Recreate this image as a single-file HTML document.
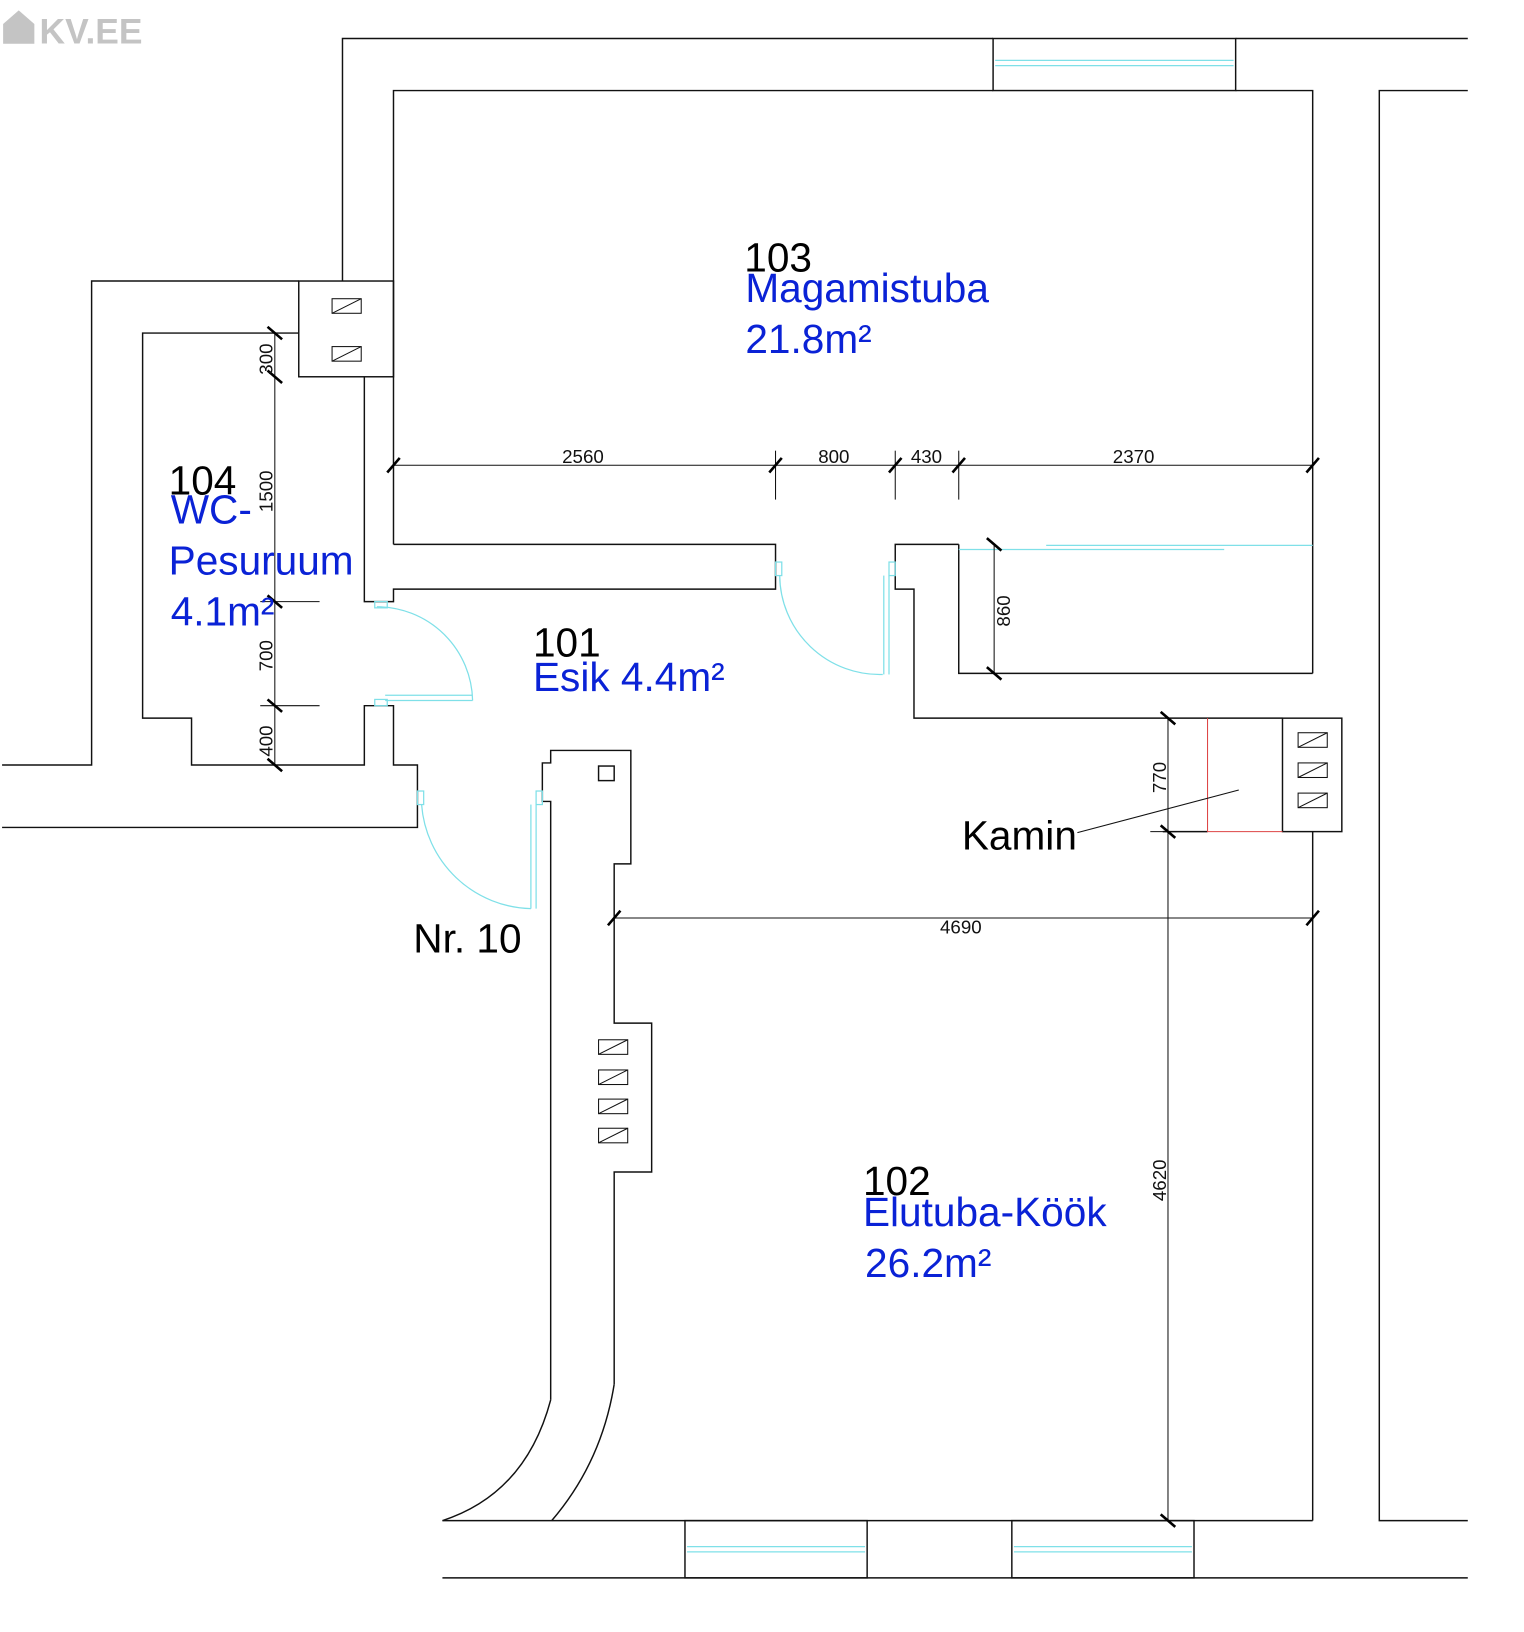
<!DOCTYPE html>
<html><head><meta charset="utf-8"><style>
html,body{margin:0;padding:0;background:#fff;width:1524px;height:1632px;overflow:hidden}
svg{display:block}
text{font-family:"Liberation Sans",Arial,sans-serif}
</style></head><body>
<svg width="1524" height="1632" viewBox="0 0 1464 1568" preserveAspectRatio="none" xmlns="http://www.w3.org/2000/svg">
<g fill="none" stroke="#111" stroke-width="1.4">
<!-- top outer -->
<polyline points="329,270 329,37 954,37"/>
<line x1="1187" y1="37" x2="1410" y2="37"/>
<rect x="954" y="37" width="233" height="50"/>
<!-- bedroom -->
<polyline points="378,523 378,87 954,87"/>
<polyline points="1187,87 1261,87 1261,647"/>
<!-- right outer -->
<polyline points="1410,87 1325,87 1325,1461 1410,1461"/>
<!-- WC outer -->
<polyline points="287,270 88,270 88,735 2,735"/>
<polyline points="287,320 137,320 137,690 184,690 184,735 350,735 350,678 378,678 378,735 401,735 401,795 2,795"/>
<polyline points="350,362 350,578 378,578 378,566 745,566 745,523 378,523"/>
<rect x="287" y="270" width="91" height="92"/>
<!-- door 800 and right -->
<polyline points="921,523 860,523 860,566 878,566 878,690 1232,690"/>
<polyline points="921,523 921,647 1261,647"/>
<rect x="1232" y="690" width="57" height="109"/>
<line x1="1117" y1="799" x2="1160" y2="799"/>
<line x1="1261" y1="799" x2="1261" y2="1461"/>
<!-- bottom -->
<line x1="425" y1="1461" x2="1261" y2="1461"/>
<line x1="425" y1="1516" x2="1410" y2="1516"/>
<rect x="658" y="1461" width="175" height="55"/>
<rect x="972" y="1461" width="175" height="55"/>
<!-- pillar -->
<polyline points="529,1345 529,770 521,770 521,733 529,733 529,721 606,721 606,830 590,830 590,983 626,983 626,1126 590,1126 590,1330"/>
<path d="M529,1345 Q505,1435 425,1461"/>
<path d="M590,1330 Q578,1405 530,1461"/>
<rect x="575" y="736" width="15" height="14"/>
</g>
<!-- hatch squares -->
<g fill="none" stroke="#111" stroke-width="1">
<rect x="319" y="287" width="28" height="14"/><line x1="319" y1="301" x2="347" y2="287"/>
<rect x="319" y="333" width="28" height="14"/><line x1="319" y1="347" x2="347" y2="333"/>
<rect x="1247" y="704" width="28" height="14"/><line x1="1247" y1="718" x2="1275" y2="704"/>
<rect x="1247" y="733" width="28" height="14"/><line x1="1247" y1="747" x2="1275" y2="733"/>
<rect x="1247" y="762" width="28" height="14"/><line x1="1247" y1="776" x2="1275" y2="762"/>
<rect x="575" y="999" width="28" height="14"/><line x1="575" y1="1013" x2="603" y2="999"/>
<rect x="575" y="1028" width="28" height="14"/><line x1="575" y1="1042" x2="603" y2="1028"/>
<rect x="575" y="1056" width="28" height="14"/><line x1="575" y1="1070" x2="603" y2="1056"/>
<rect x="575" y="1084" width="28" height="14"/><line x1="575" y1="1098" x2="603" y2="1084"/>
</g>
<!-- kamin red -->
<polyline points="1160,690 1160,799 1232,799" fill="none" stroke="#d44" stroke-width="1"/>
<!-- cyan doors/windows -->
<g fill="none" stroke="#7fe0e8" stroke-width="1.2">
<line x1="956" y1="58" x2="1185" y2="58"/><line x1="956" y1="63" x2="1185" y2="63"/>
<line x1="660" y1="1486" x2="831" y2="1486"/><line x1="660" y1="1491" x2="831" y2="1491"/>
<line x1="974" y1="1486" x2="1145" y2="1486"/><line x1="974" y1="1491" x2="1145" y2="1491"/>
<line x1="921" y1="528" x2="1176" y2="528"/><line x1="1005" y1="524" x2="1261" y2="524"/>
<path d="M362,583 A92,92 0 0 1 454,673"/>
<rect x="360" y="578" width="12" height="6"/>
<line x1="370" y1="668" x2="454" y2="668"/><line x1="370" y1="673" x2="454" y2="673"/>
<rect x="360" y="672" width="12" height="6"/>
<path d="M749,553 A96,96 0 0 0 848,648"/>
<rect x="745" y="540" width="6" height="13"/>
<line x1="849" y1="553" x2="849" y2="648"/><line x1="854" y1="553" x2="854" y2="648"/>
<rect x="854" y="540" width="6" height="13"/>
<path d="M405,773 A108,108 0 0 0 510,873"/>
<rect x="401" y="760" width="6" height="13"/>
<line x1="510" y1="773" x2="510" y2="873"/><line x1="515" y1="773" x2="515" y2="873"/>
<rect x="515" y="760" width="6" height="13"/>
</g>
<!-- dimensions -->
<g stroke="#111" stroke-width="1">
<line x1="378" y1="447" x2="1261" y2="447"/>
<line x1="745" y1="433" x2="745" y2="480"/><line x1="860" y1="433" x2="860" y2="480"/><line x1="921" y1="433" x2="921" y2="480"/>
<line x1="590" y1="882" x2="1261" y2="882"/>
<line x1="264" y1="320" x2="264" y2="735"/>
<line x1="250" y1="578" x2="307" y2="578"/><line x1="250" y1="678" x2="307" y2="678"/>
<line x1="955" y1="523" x2="955" y2="647"/>
<line x1="1122" y1="690" x2="1122" y2="1461"/>
<line x1="1105" y1="799" x2="1130" y2="799"/>
<line x1="1035" y1="800" x2="1190" y2="759"/>
</g>
<g stroke="#000" stroke-width="2.5">
<line x1="372" y1="454" x2="384" y2="440"/><line x1="739" y1="454" x2="751" y2="440"/><line x1="854" y1="454" x2="866" y2="440"/><line x1="915" y1="454" x2="927" y2="440"/><line x1="1255" y1="454" x2="1267" y2="440"/>
<line x1="584" y1="889" x2="596" y2="875"/><line x1="1255" y1="889" x2="1267" y2="875"/>
<line x1="257" y1="314" x2="271" y2="326"/><line x1="257" y1="356" x2="271" y2="368"/><line x1="257" y1="572" x2="271" y2="584"/><line x1="257" y1="672" x2="271" y2="684"/><line x1="257" y1="729" x2="271" y2="741"/>
<line x1="948" y1="517" x2="962" y2="529"/><line x1="948" y1="641" x2="962" y2="653"/>
<line x1="1115" y1="684" x2="1129" y2="696"/><line x1="1115" y1="793" x2="1129" y2="805"/><line x1="1115" y1="1455" x2="1129" y2="1467"/>
</g>
<g font-size="18" fill="#111">
<text x="540" y="445">2560</text><text x="786" y="445">800</text><text x="875" y="445">430</text><text x="1069" y="445">2370</text>
<text x="903" y="897">4690</text>
<text transform="translate(262,360) rotate(-90)">300</text>
<text transform="translate(262,492) rotate(-90)">1500</text>
<text transform="translate(262,645) rotate(-90)">700</text>
<text transform="translate(262,727) rotate(-90)">400</text>
<text transform="translate(970,602) rotate(-90)">860</text>
<text transform="translate(1120,762) rotate(-90)">770</text>
<text transform="translate(1120,1154) rotate(-90)">4620</text>
</g>
<g font-size="39">
<text x="715" y="261" fill="#000">103</text>
<text x="716" y="290" fill="#0a22d6">Magamistuba</text>
<text x="716" y="339" fill="#0a22d6">21.8m²</text>
<text x="162" y="475" fill="#000">104</text>
<text x="164" y="503" fill="#0a22d6">WC-</text>
<text x="162" y="552" fill="#0a22d6">Pesuruum</text>
<text x="164" y="601" fill="#0a22d6">4.1m²</text>
<text x="512" y="631" fill="#000">101</text>
<text x="512" y="664" fill="#0a22d6">Esik 4.4m²</text>
<text x="829" y="1148" fill="#000">102</text>
<text x="829" y="1178" fill="#0a22d6">Elutuba-Köök</text>
<text x="831" y="1227" fill="#0a22d6">26.2m²</text>
<text x="924" y="816" fill="#000">Kamin</text>
<text x="397" y="915" fill="#000">Nr. 10</text>
</g>
<g fill="#c4c4c4">
<path d="M3,42 L3,23 L18,10 L33,23 L33,42 Z"/>
<text x="38" y="42" font-size="34" font-weight="bold" fill="#c4c4c4">KV.EE</text>
</g>
</svg>
</body></html>
